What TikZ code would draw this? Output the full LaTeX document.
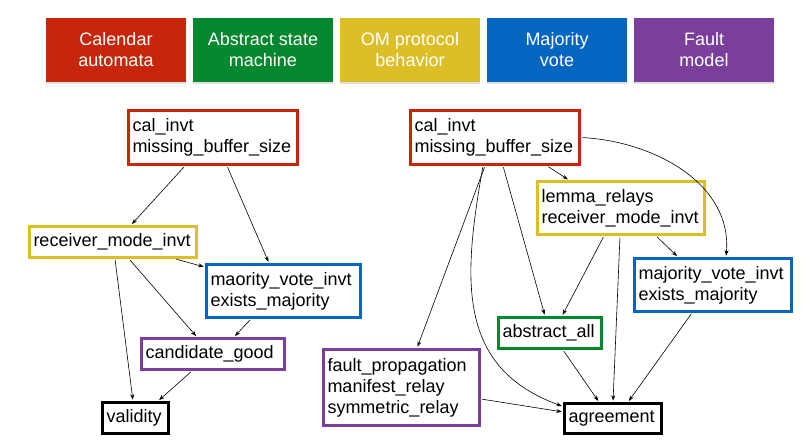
\documentclass[tikz,border=0pt]{standalone}
\usepackage{fontspec}
\setmainfont{Liberation Sans}
\usetikzlibrary{arrows.meta,shadows}

\definecolor{rosso}{HTML}{C8260A}
\definecolor{verde}{HTML}{03882F}
\definecolor{giallo}{HTML}{DCBE27}
\definecolor{blu}{HTML}{0566C2}
\definecolor{viola}{HTML}{7A3F9A}

\begin{document}
\begin{tikzpicture}[x=1pt, y=1pt]
	% Stili per legenda, invarianti e archi
	\tikzset{
		legenda/.style={minimum width=140pt, minimum height=64pt, inner sep=0pt, align=center, text=white,
			font=\fontsize{18}{21}\selectfont, drop shadow={shadow xshift=0pt, shadow yshift=-2pt, opacity=0.25}},
		inv/.style={draw, line width=2.8pt, align=left, inner xsep=4pt, inner ysep=2pt,
			font=\fontsize{18}{21}\selectfont},
		freccia/.style={-{Stealth[length=5.5pt,width=4pt]}, line width=0.6pt, shorten <=1.4pt, shorten >=1.4pt}
	}
	\useasboundingbox (0,0) rectangle (805,444);

	% Legenda dei colori
	\node[legenda, fill=rosso] (leg1) at (116,394) {Calendar\\automata};
	\node[legenda, fill=verde] (leg2) at (263,394) {Abstract state\\machine};
	\node[legenda, fill=giallo] (leg3) at (410,394) {OM protocol\\behavior};
	\node[legenda, fill=blu] (leg4) at (557,394) {Majority\\vote};
	\node[legenda, fill=viola] (leg5) at (704,394) {Fault\\model};

	% Grafo di sinistra (validity)
	\node[inv, draw=rosso, text width=161pt, minimum height=54pt] (lcal) at (213,306.5) {cal\_invt\\missing\_buffer\_size};
	\node[inv, draw=giallo, text width=159pt, minimum height=31pt] (lrecv) at (113,202) {receiver\_mode\_invt};
	\node[inv, draw=blu, text width=146pt, minimum height=53pt] (lmaj) at (283.5,153) {maority\_vote\_invt\\exists\_majority};
	\node[inv, draw=viola, text width=135pt, minimum height=31pt] (lcand) at (213,90) {candidate\_good};
	\node[inv, draw=black, text width=58pt, minimum height=31pt] (lvalid) at (135.5,26) {validity};

	\draw[freccia] ([xshift=-28pt]lcal.south) -- ([xshift=18pt]lrecv.north);
	\draw[freccia] ([xshift=14pt]lcal.south) -- ([xshift=-14.5pt]lmaj.north);
	\draw[freccia] ([xshift=62pt]lrecv.south) -- ([yshift=-4pt]lmaj.north west);
	\draw[freccia] ([xshift=2pt]lrecv.south) -- ([xshift=-2.5pt]lvalid.north);
	\draw[freccia] ([xshift=16pt]lrecv.south) -- ([xshift=-16pt]lcand.north);
	\draw[freccia] ([xshift=-32.5pt]lmaj.south) -- ([xshift=21pt]lcand.north);
	\draw[freccia] ([xshift=-21pt]lcand.south) -- ([xshift=22.5pt]lvalid.north);

	% Grafo di destra (agreement)
	\node[inv, draw=rosso, text width=161pt, minimum height=54pt] (rcal) at (495,306.5) {cal\_invt\\missing\_buffer\_size};
	\node[inv, draw=giallo, text width=159pt, minimum height=53pt] (rlemma) at (621,236) {lemma\_relays\\receiver\_mode\_invt};
	\node[inv, draw=blu, text width=149pt, minimum height=53pt] (rmaj) at (713,159) {majority\_vote\_invt\\exists\_majority};
	\node[inv, draw=verde, text width=95pt, minimum height=31pt] (rabs) at (550,111) {abstract\_all};
	\node[inv, draw=viola, text width=148pt, minimum height=76pt] (rfault) at (401.5,56.5) {fault\_propagation\\manifest\_relay\\symmetric\_relay};
	\node[inv, draw=black, text width=89pt, minimum height=30pt] (ragree) at (613,25.5) {agreement};

	\draw[freccia] ([xshift=52pt]rcal.south) -- ([xshift=-52pt]rlemma.north);
	\draw[freccia] (rcal.east) to[out=-3, in=85] ([xshift=13pt]rmaj.north);
	\draw[freccia] ([xshift=-10pt]rcal.south) -- ([xshift=15.5pt]rfault.north);
	\draw[freccia] ([xshift=-12pt]rcal.south) to[out=-100, in=160, looseness=1.15] ([yshift=12pt]ragree.west);
	\draw[freccia] ([xshift=8pt]rcal.south) -- ([xshift=-5pt]rabs.north);
	\draw[freccia] ([xshift=-17pt]rlemma.south) -- ([xshift=12pt]rabs.north);
	\draw[freccia] ([xshift=-1pt]rlemma.south) -- (ragree.north);
	\draw[freccia] ([xshift=35pt]rlemma.south) -- ([xshift=-35pt]rmaj.north);
	\draw[freccia] ([xshift=-21pt]rmaj.south) -- ([xshift=15pt]ragree.north);
	\draw[freccia] ([xshift=13pt]rabs.south) -- ([xshift=-14pt]ragree.north);
	\draw[freccia] ([yshift=-11.5pt]rfault.east) -- ([yshift=6.5pt]ragree.west);
\end{tikzpicture}
\end{document}
